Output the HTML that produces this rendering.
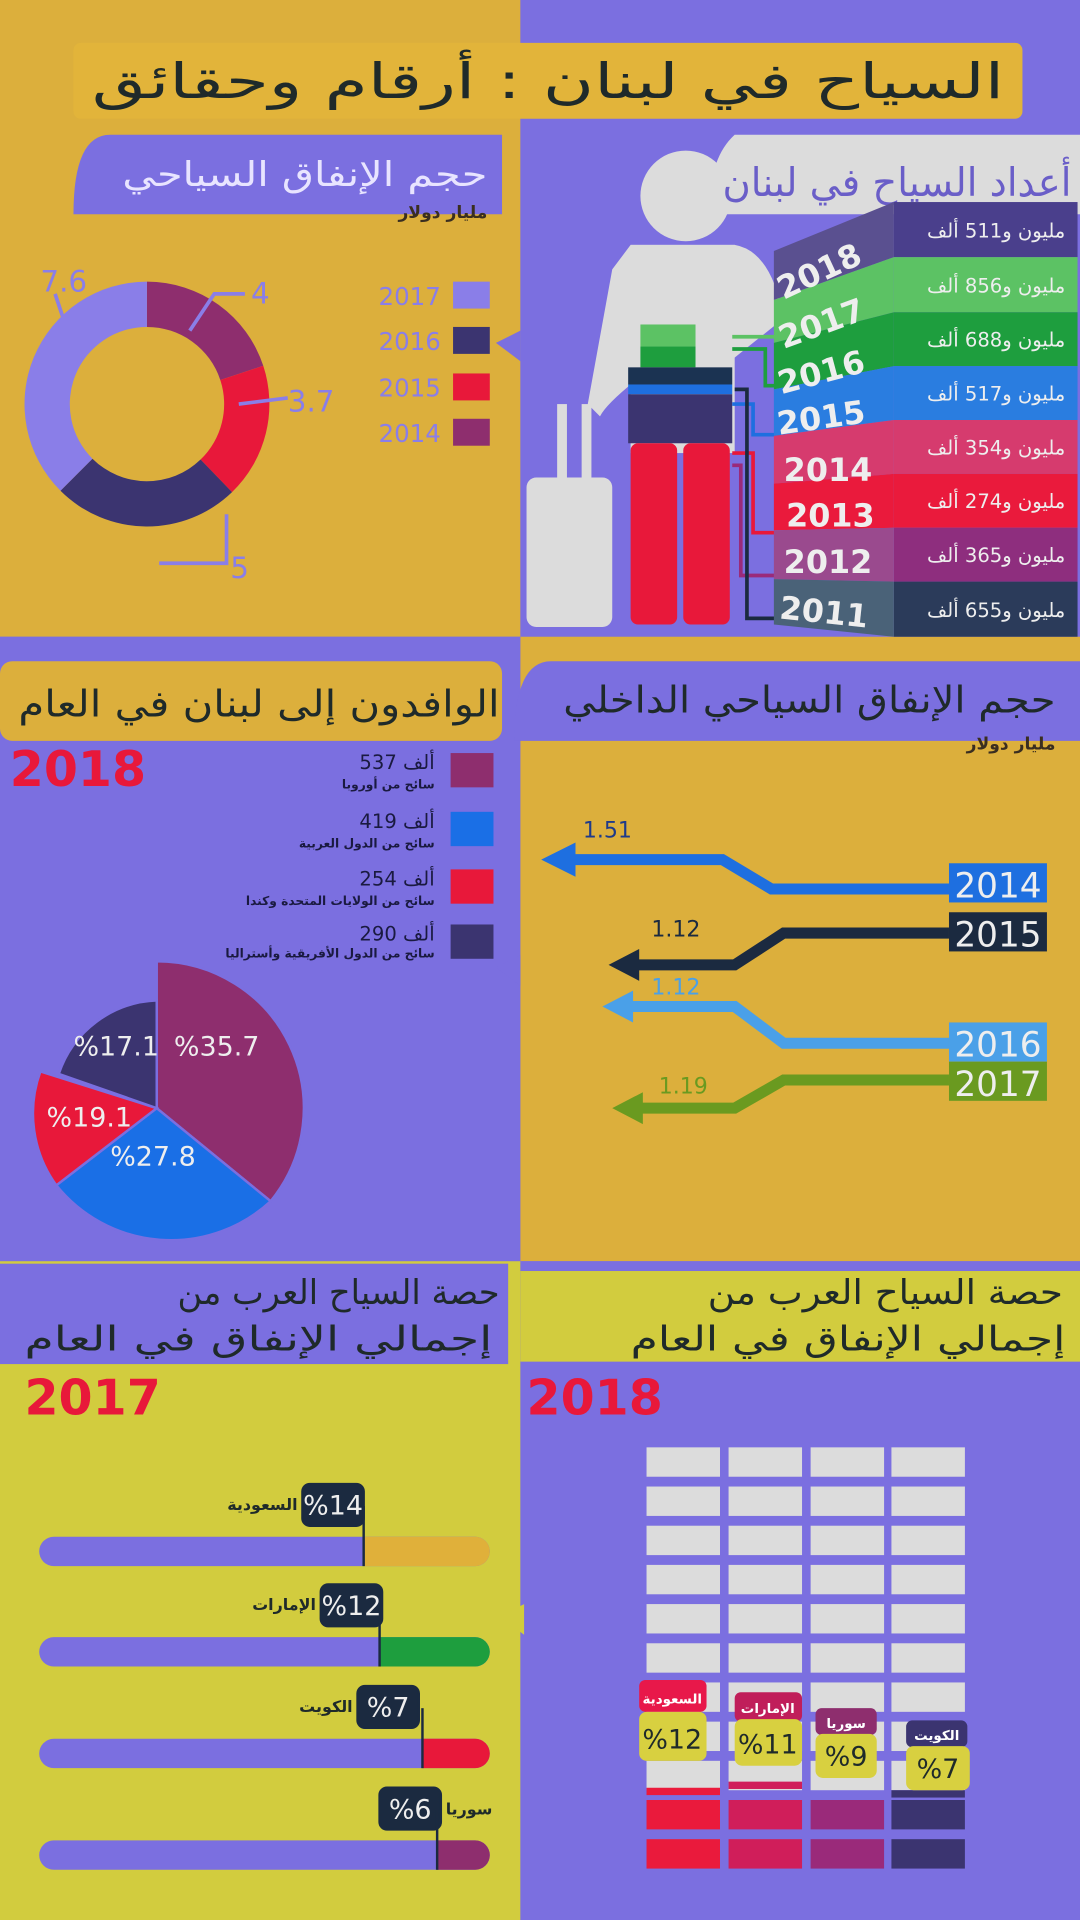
<!DOCTYPE html>
<html><head><meta charset="utf-8"><style>
html,body{margin:0;padding:0;width:1080px;height:1920px;overflow:hidden;background:#7b6fe0}
svg{display:block}
text{font-family:"DejaVu Sans","Liberation Sans",sans-serif}
</style></head><body>
<svg width="1080" height="1920" viewBox="0 0 882 1568" xmlns="http://www.w3.org/2000/svg">
<rect x="0" y="0" width="425" height="520" fill="#dcaf3c"/>
<rect x="425" y="0" width="457" height="520" fill="#7b6fe0"/>
<rect x="0" y="520" width="425" height="510" fill="#7b6fe0"/>
<rect x="425" y="520" width="457" height="510" fill="#dcaf3c"/>
<rect x="0" y="1030" width="425" height="538" fill="#d2cc3e"/>
<rect x="425" y="1030" width="457" height="538" fill="#7b6fe0"/>
<!-- title -->
<rect x="60" y="35" width="775" height="62" rx="6" fill="#e2b43a"/>
<text x="820" y="80" text-anchor="end" font-size="40" fill="#1f2a2a" textLength="745" lengthAdjust="spacingAndGlyphs">السياح في لبنان : أرقام وحقائق</text>
<!-- left top header -->
<path d="M60 110 L410 110 L410 175 L60 175 Q60 110 90 110Z" fill="#7b6fe0"/>
<text x="398" y="152" text-anchor="end" font-size="28" fill="#e8e4ff" textLength="298" lengthAdjust="spacingAndGlyphs">حجم الإنفاق السياحي</text>
<text x="398" y="178" text-anchor="end" font-size="14" fill="#3a2e20" font-weight="bold">مليار دولار</text>
<!-- donut -->
<g transform="translate(120,330)">
<path d="M0,-100 A100,100 0 0 1 95.0,-31.3 L59.9,-19.7 A63,63 0 0 0 0,-63Z" fill="#8e2e6e"/>
<path d="M95.0,-31.3 A100,100 0 0 1 69.5,71.9 L43.8,45.3 A63,63 0 0 0 59.9,-19.7Z" fill="#e8183a"/>
<path d="M69.5,71.9 A100,100 0 0 1 -70.6,70.8 L-44.5,44.6 A63,63 0 0 0 43.8,45.3Z" fill="#3b3470"/>
<path d="M-70.6,70.8 A100,100 0 0 1 0,-100 L0,-63 A63,63 0 0 0 -44.5,44.6Z" fill="#8a7ee8"/>
</g>
<g stroke="#8a7ee8" stroke-width="3" fill="none">
<polyline points="45,240 55,270"/><polyline points="155,270 175,240 200,240"/>
<polyline points="195,330 235,325"/><polyline points="185,420 185,460 130,460"/>
</g>
<text x="33" y="238" font-size="24" fill="#8a7ee8">7.6</text>
<text x="205" y="248" font-size="24" fill="#8a7ee8">4</text>
<text x="235" y="336" font-size="24" fill="#8a7ee8">3.7</text>
<text x="188" y="472" font-size="24" fill="#8a7ee8">5</text>
<rect x="370" y="230" width="30" height="22" fill="#8a7ee8"/>
<rect x="370" y="267" width="30" height="22" fill="#3b3470"/>
<rect x="370" y="305" width="30" height="22" fill="#e8183a"/>
<rect x="370" y="342" width="30" height="22" fill="#8e2e6e"/>
<g font-size="20" fill="#8a7ee8" text-anchor="end">
<text x="360" y="249">2017</text><text x="360" y="286">2016</text><text x="360" y="324">2015</text><text x="360" y="361">2014</text></g>
<polygon points="405,280 425,270 425,295" fill="#7b6fe0"/>
<!-- person -->
<g fill="#dcdcdc">
<circle cx="560" cy="160" r="37"/>
<path d="M515,200 L600,200 Q630,205 640,260 L590,300 L520,310 Q495,330 490,340 L480,330 L500,220Z"/>
<rect x="515" y="200" width="85" height="170"/>
<rect x="430" y="390" width="70" height="122" rx="8"/>
<rect x="455" y="330" width="8" height="62"/><rect x="475" y="330" width="8" height="62"/>
</g>
<!-- right top header -->
<path d="M590 110 L882 110 L882 175 L580 175 Q578 130 600 110Z" fill="#dcdcdc"/>
<text x="875" y="160" text-anchor="end" font-size="32" fill="#6a5ec8" textLength="285" lengthAdjust="spacingAndGlyphs">أعداد السياح في لبنان</text>
<rect x="523" y="265" width="45" height="18" fill="#5cc264"/>
<rect x="523" y="283" width="45" height="17" fill="#1e9e3e"/>
<rect x="513" y="300" width="85" height="14" fill="#1b3352"/>
<rect x="513" y="314" width="85" height="8" fill="#1e6fe0"/>
<rect x="513" y="322" width="85" height="40" fill="#3b3470"/>
<rect x="515" y="362" width="38" height="148" rx="6" fill="#e8183a"/>
<rect x="558" y="362" width="38" height="148" rx="6" fill="#e8183a"/>
<g fill="none" stroke-width="3">
<polyline points="598,285 625,285 625,315 637,315" stroke="#1e9e3e"/>
<polyline points="598,275 640,275" stroke="#5cc264"/>
<polyline points="598,330 615,330 615,355 637,355" stroke="#1e6fe0"/>
<polyline points="598,370 615,370 615,435 637,435" stroke="#e8183a"/>
<polyline points="598,380 605,380 605,470 637,470" stroke="#9a2a7a"/>
<polyline points="600,318 610,318 610,505 637,505" stroke="#1b2a40"/>
</g>
<g>
<rect x="730" y="165" width="150" height="45" fill="#4a3f8c"/>
<rect x="730" y="210" width="150" height="45" fill="#5cc264"/>
<rect x="730" y="255" width="150" height="44" fill="#1e9e3e"/>
<rect x="730" y="299" width="150" height="44" fill="#2a7de0"/>
<rect x="730" y="343" width="150" height="44" fill="#d63b6e"/>
<rect x="730" y="387" width="150" height="44" fill="#ea1a3c"/>
<rect x="730" y="431" width="150" height="44" fill="#8e2e7e"/>
<rect x="730" y="475" width="150" height="45" fill="#2b3b5a"/>
<polygon points="632,205 730,165 730,210 632,245" fill="#5a5090"/>
<polygon points="632,245 730,210 730,255 632,280" fill="#5cc264"/>
<polygon points="632,280 730,255 730,299 632,318" fill="#1e9e3e"/>
<polygon points="632,318 730,299 730,343 632,356" fill="#2a7de0"/>
<polygon points="632,356 730,343 730,387 632,395" fill="#d63b6e"/>
<polygon points="632,395 730,387 730,431 632,433" fill="#ea1a3c"/>
<polygon points="632,433 730,431 730,475 632,473" fill="#9a4a8e"/>
<polygon points="632,473 730,475 730,520 632,510" fill="#4a6278"/>
</g>
<g font-size="26" fill="#eee" font-weight="bold">
<text x="640" y="245" transform="rotate(-25 640 245)">2018</text>
<text x="640" y="285" transform="rotate(-20 640 285)">2017</text>
<text x="638" y="322" transform="rotate(-15 638 322)">2016</text>
<text x="636" y="355" transform="rotate(-8 636 355)">2015</text>
<text x="640" y="393">2014</text>
<text x="642" y="430">2013</text>
<text x="640" y="468">2012</text>
<text x="636" y="505" transform="rotate(6 636 505)">2011</text>
</g>
<g font-size="16" fill="#eee" text-anchor="end">
<text x="870" y="194">مليون و511 ألف</text>
<text x="870" y="239">مليون و856 ألف</text>
<text x="870" y="283">مليون و688 ألف</text>
<text x="870" y="327">مليون و517 ألف</text>
<text x="870" y="371">مليون و354 ألف</text>
<text x="870" y="415">مليون و274 ألف</text>
<text x="870" y="459">مليون و365 ألف</text>
<text x="870" y="504">مليون و655 ألف</text>
</g>
<!-- section 2 headers -->
<rect x="0" y="540" width="410" height="65" rx="10" fill="#dcaf3c"/>
<text x="408" y="585" text-anchor="end" font-size="30" fill="#1f2a2a" textLength="393" lengthAdjust="spacingAndGlyphs">الوافدون إلى لبنان في العام</text>
<path d="M410 540 L882 540 L882 605 L420 605 Q420 540 450 540Z" fill="#7b6fe0"/>
<text x="862" y="582" text-anchor="end" font-size="30" fill="#1f2a2a" textLength="402" lengthAdjust="spacingAndGlyphs">حجم الإنفاق السياحي الداخلي</text>
<text x="862" y="612" text-anchor="end" font-size="14" fill="#3a2e20" font-weight="bold">مليار دولار</text>
<!-- visitors -->
<text x="8" y="642" font-size="40" fill="#e8183a" font-weight="bold">2018</text>
<rect x="368" y="615" width="35" height="28" fill="#8e2e6e"/>
<rect x="368" y="663" width="35" height="28" fill="#1a6fe6"/>
<rect x="368" y="710" width="35" height="28" fill="#e8183a"/>
<rect x="368" y="755" width="35" height="28" fill="#3b3470"/>
<g text-anchor="end" fill="#1a1a40">
<text x="355" y="628" font-size="16">537 ألف</text><text x="355" y="644" font-size="10" font-weight="bold">سائح من أوروبا</text>
<text x="355" y="676" font-size="16">419 ألف</text><text x="355" y="692" font-size="10" font-weight="bold">سائح من الدول العربية</text>
<text x="355" y="723" font-size="16">254 ألف</text><text x="355" y="739" font-size="10" font-weight="bold">سائح من الولايات المتحدة وكندا</text>
<text x="355" y="768" font-size="16">290 ألف</text><text x="355" y="782" font-size="10" font-weight="bold">سائح من الدول الأفريقية وأستراليا</text>
</g>
<polygon points="405,790 425,780 425,805" fill="#7b6fe0"/>
<g transform="translate(128,905)">
<path d="M0,0 L0,-120 A120,120 0 0 1 93,76Z" fill="#8e2e6e" stroke="#7b6fe0" stroke-width="2"/>
<path d="M0,0 L93,76 A120,120 0 0 1 -82,63Z" fill="#1a6fe6" stroke="#7b6fe0" stroke-width="2"/>
<path d="M0,0 L-82,63 A100,100 0 0 1 -95,-30Z" fill="#e8183a" stroke="#7b6fe0" stroke-width="2"/>
<path d="M0,0 L-80,-28 A88,88 0 0 1 0,-88Z" fill="#3b3470" stroke="#7b6fe0" stroke-width="2"/>
</g>
<g font-size="22" fill="#eee">
<text x="142" y="862">%35.7</text><text x="90" y="952">%27.8</text>
<text x="38" y="920">%19.1</text><text x="60" y="862">%17.1</text></g>
<!-- arrows -->
<g fill="none" stroke-width="9">
<polyline points="775,726 630,726 590,702 460,702" stroke="#1e6fe0"/>
<polyline points="775,762 640,762 600,788 515,788" stroke="#1b2a40"/>
<polyline points="775,852 640,852 600,822 510,822" stroke="#4aa0e8"/>
<polyline points="775,882 640,882 600,905 515,905" stroke="#6a9a20"/>
</g>
<polygon points="442,702 470,688 470,716" fill="#1e6fe0"/>
<polygon points="497,788 522,775 522,801" fill="#1b2a40"/>
<polygon points="492,822 517,809 517,835" fill="#4aa0e8"/>
<polygon points="500,905 525,892 525,918" fill="#6a9a20"/>
<rect x="775" y="705" width="80" height="32" fill="#1e6fe0"/>
<rect x="775" y="745" width="80" height="32" fill="#1b2a40"/>
<rect x="775" y="835" width="80" height="32" fill="#4aa0e8"/>
<rect x="775" y="867" width="80" height="32" fill="#6a9a20"/>
<g font-size="28" fill="#eee" text-anchor="middle">
<text x="815" y="733">2014</text><text x="815" y="773">2015</text><text x="815" y="863">2016</text><text x="815" y="895">2017</text></g>
<g font-size="18" text-anchor="middle">
<text x="496" y="684" fill="#1e3a8a">1.51</text><text x="552" y="765" fill="#1b2a40">1.12</text>
<text x="552" y="812" fill="#4aa0e8">1.12</text><text x="558" y="893" fill="#6a9a20">1.19</text></g>
<!-- section 3 headers -->
<rect x="0" y="1032" width="415" height="82" fill="#7b6fe0"/>
<text x="408" y="1065" text-anchor="end" font-size="28" fill="#1f2a2a" textLength="263" lengthAdjust="spacingAndGlyphs">حصة السياح العرب من</text>
<text x="402" y="1103" text-anchor="end" font-size="28" fill="#1f2a2a" textLength="382" lengthAdjust="spacingAndGlyphs">إجمالي الإنفاق في العام</text>
<rect x="425" y="1038" width="457" height="74" fill="#d2cc3e"/>
<text x="868" y="1065" text-anchor="end" font-size="28" fill="#1f2a2a" textLength="290" lengthAdjust="spacingAndGlyphs">حصة السياح العرب من</text>
<text x="870" y="1103" text-anchor="end" font-size="28" fill="#1f2a2a" textLength="355" lengthAdjust="spacingAndGlyphs">إجمالي الإنفاق في العام</text>
<!-- 2017 bars -->
<text x="20" y="1155" font-size="40" fill="#e8183a" font-weight="bold">2017</text>
<g>
<rect x="32" y="1255" width="368" height="24" rx="12" fill="#7b6fe0"/><path d="M297 1255 H388 A12 12 0 0 1 388 1279 H297Z" fill="#e0b03a"/>
<rect x="32" y="1337" width="368" height="24" rx="12" fill="#7b6fe0"/><path d="M310 1337 H388 A12 12 0 0 1 388 1361 H310Z" fill="#1e9e3e"/>
<rect x="32" y="1420" width="368" height="24" rx="12" fill="#7b6fe0"/><path d="M345 1420 H388 A12 12 0 0 1 388 1444 H345Z" fill="#e8183a"/>
<rect x="32" y="1503" width="368" height="24" rx="12" fill="#7b6fe0"/><path d="M357 1503 H388 A12 12 0 0 1 388 1527 H357Z" fill="#8e2e6e"/>
</g>
<g fill="#1b2a40" stroke="#1b2a40" stroke-width="2">
<rect x="247" y="1212" width="50" height="34" rx="6"/><line x1="297" y1="1230" x2="297" y2="1279"/>
<rect x="262" y="1294" width="50" height="34" rx="6"/><line x1="310" y1="1312" x2="310" y2="1361"/>
<rect x="292" y="1377" width="50" height="34" rx="6"/><line x1="345" y1="1395" x2="345" y2="1444"/>
<rect x="310" y="1460" width="50" height="34" rx="6"/><line x1="357" y1="1478" x2="357" y2="1527"/>
</g>
<g font-size="22" fill="#eee" text-anchor="middle">
<text x="272" y="1237">%14</text><text x="287" y="1319">%12</text><text x="317" y="1402">%7</text><text x="335" y="1485">%6</text></g>
<g font-size="13" fill="#1f2a2a" font-weight="bold" text-anchor="end">
<text x="243" y="1233">السعودية</text><text x="258" y="1315">الإمارات</text><text x="288" y="1398">الكويت</text></g>
<text x="364" y="1482" font-size="13" fill="#1f2a2a" font-weight="bold">سوريا</text>
<polygon points="408,1320 428,1310 428,1335" fill="#d2cc3e"/>
<!-- 2018 grid -->
<text x="430" y="1155" font-size="40" fill="#e8183a" font-weight="bold">2018</text>
<g fill="#dcdcdc">
<rect x="528" y="1182" width="60" height="24"/><rect x="595" y="1182" width="60" height="24"/><rect x="662" y="1182" width="60" height="24"/><rect x="728" y="1182" width="60" height="24"/>
<rect x="528" y="1214" width="60" height="24"/><rect x="595" y="1214" width="60" height="24"/><rect x="662" y="1214" width="60" height="24"/><rect x="728" y="1214" width="60" height="24"/>
<rect x="528" y="1246" width="60" height="24"/><rect x="595" y="1246" width="60" height="24"/><rect x="662" y="1246" width="60" height="24"/><rect x="728" y="1246" width="60" height="24"/>
<rect x="528" y="1278" width="60" height="24"/><rect x="595" y="1278" width="60" height="24"/><rect x="662" y="1278" width="60" height="24"/><rect x="728" y="1278" width="60" height="24"/>
<rect x="528" y="1310" width="60" height="24"/><rect x="595" y="1310" width="60" height="24"/><rect x="662" y="1310" width="60" height="24"/><rect x="728" y="1310" width="60" height="24"/>
<rect x="528" y="1342" width="60" height="24"/><rect x="595" y="1342" width="60" height="24"/><rect x="662" y="1342" width="60" height="24"/><rect x="728" y="1342" width="60" height="24"/>
<rect x="528" y="1374" width="60" height="24"/><rect x="595" y="1374" width="60" height="24"/><rect x="662" y="1374" width="60" height="24"/><rect x="728" y="1374" width="60" height="24"/>
<rect x="528" y="1406" width="60" height="24"/><rect x="595" y="1406" width="60" height="24"/><rect x="662" y="1406" width="60" height="24"/><rect x="728" y="1406" width="60" height="24"/>
<rect x="528" y="1438" width="60" height="24"/><rect x="595" y="1438" width="60" height="24"/><rect x="662" y="1438" width="60" height="24"/><rect x="728" y="1438" width="60" height="24"/>
</g>
<rect x="528" y="1470" width="60" height="24" fill="#ea1a3c"/><rect x="595" y="1470" width="60" height="24" fill="#d01e5a"/><rect x="662" y="1470" width="60" height="24" fill="#9a2a7a"/><rect x="728" y="1470" width="60" height="24" fill="#3b3470"/>
<rect x="528" y="1502" width="60" height="24" fill="#ea1a3c"/><rect x="595" y="1502" width="60" height="24" fill="#d01e5a"/><rect x="662" y="1502" width="60" height="24" fill="#9a2a7a"/><rect x="728" y="1502" width="60" height="24" fill="#3b3470"/>
<rect x="528" y="1460" width="60" height="6" fill="#ea1a3c"/><rect x="595" y="1455" width="60" height="6" fill="#d01e5a"/><rect x="728" y="1462" width="60" height="6" fill="#3b3470"/>
<rect x="522" y="1372" width="55" height="26" rx="5" fill="#e8184a"/><text x="549" y="1391" text-anchor="middle" font-size="11" fill="#fff" font-weight="bold">السعودية</text>
<rect x="522" y="1398" width="55" height="40" rx="6" fill="#d8d040"/><text x="549" y="1428" text-anchor="middle" font-size="22" fill="#1f2a2a">%12</text>
<rect x="600" y="1382" width="55" height="24" rx="5" fill="#c01e5a"/><text x="627" y="1399" text-anchor="middle" font-size="11" fill="#fff" font-weight="bold">الإمارات</text>
<rect x="600" y="1404" width="55" height="38" rx="6" fill="#d8d040"/><text x="627" y="1432" text-anchor="middle" font-size="22" fill="#1f2a2a">%11</text>
<rect x="666" y="1395" width="50" height="22" rx="5" fill="#8e2e6e"/><text x="691" y="1411" text-anchor="middle" font-size="11" fill="#fff" font-weight="bold">سوريا</text>
<rect x="666" y="1416" width="50" height="36" rx="6" fill="#d8d040"/><text x="691" y="1442" text-anchor="middle" font-size="22" fill="#1f2a2a">%9</text>
<rect x="740" y="1405" width="50" height="22" rx="5" fill="#3b3470"/><text x="765" y="1421" text-anchor="middle" font-size="11" fill="#fff" font-weight="bold">الكويت</text>
<rect x="740" y="1426" width="52" height="36" rx="6" fill="#d8d040"/><text x="766" y="1452" text-anchor="middle" font-size="22" fill="#1f2a2a">%7</text>
</svg>
</body></html>
